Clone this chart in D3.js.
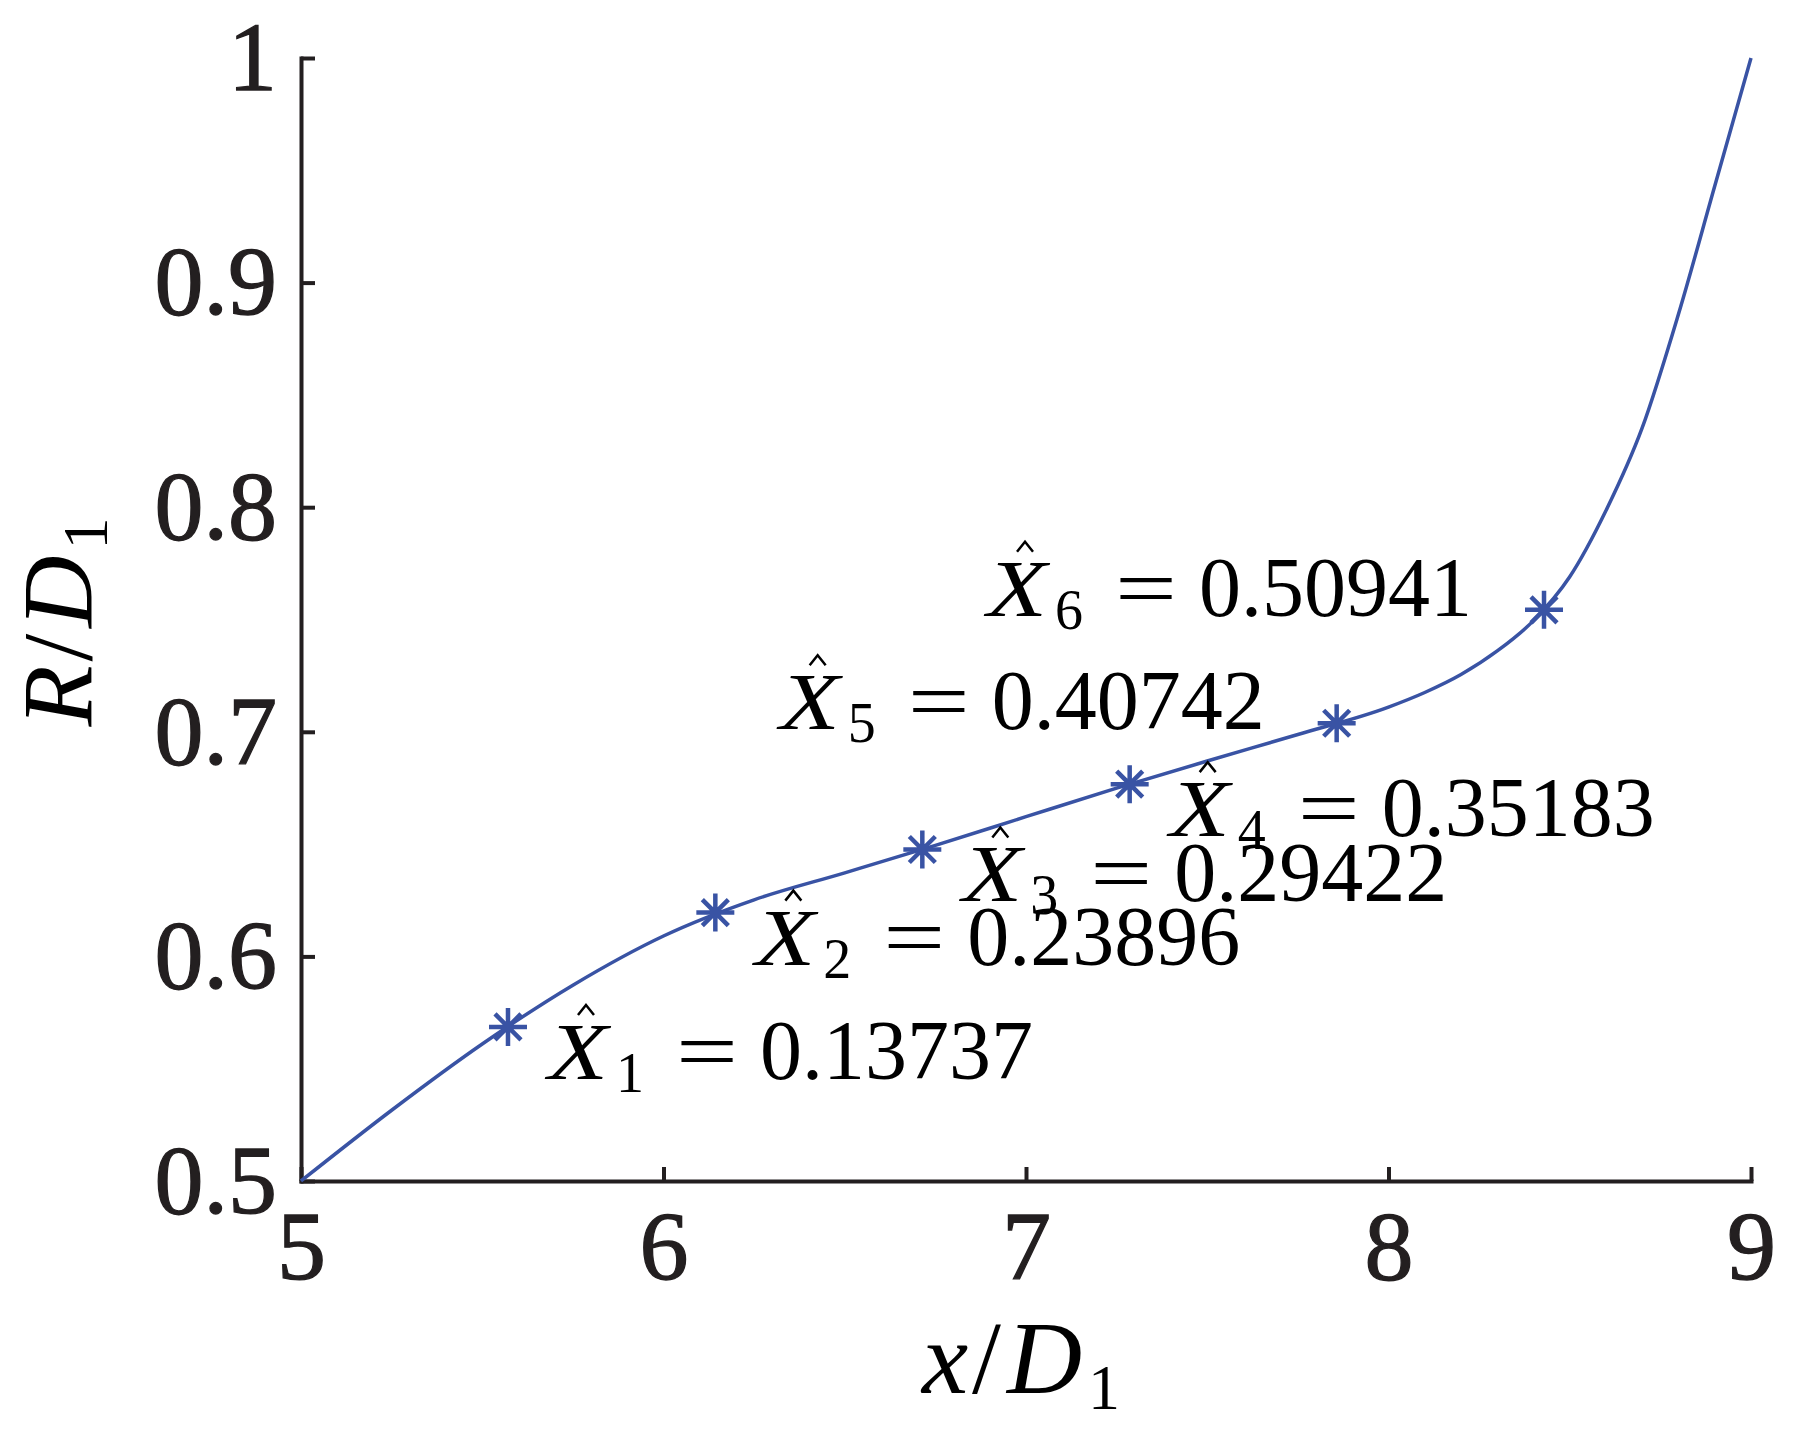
<!DOCTYPE html>
<html>
<head>
<meta charset="utf-8">
<script src="https://cdn.jsdelivr.net/npm/d3@7"></script>
<style>
  body { margin: 0; background: #fff; }
  text { font-family: "Liberation Serif", "Times New Roman", serif; fill: #000; }
  .axis path, .axis line { stroke: #231f20; stroke-width: 4; }
  .axis text { font-size: 98px; fill: #231f20; stroke: #231f20; stroke-width: 1.3; }
</style>
</head>
<body>
<div id="chart"></div>
<script>
// tick values
var xTicks = [5, 6, 7, 8, 9];
var yTicks = [0.5, 0.6, 0.7, 0.8, 0.9, 1];

// R/D1 along x/D1
var curveX = [5.0, 5.25, 5.5, 5.75, 6.0, 6.25, 6.5, 6.75, 7.0, 7.25, 7.5, 7.75, 8.0, 8.1, 8.2, 8.3, 8.4, 8.5, 8.6, 8.7, 8.8, 8.9, 9.0];
var curveY = [0.5, 0.5315, 0.5610, 0.5872, 0.6091, 0.6252, 0.6372, 0.6494, 0.6622, 0.6749, 0.6870, 0.6988, 0.7110, 0.7175, 0.7255, 0.7360, 0.7495, 0.7690, 0.7985, 0.8354, 0.8860, 0.9430, 1.0];

// the six marked points and their X-hat values
var markX = [5.571, 6.143, 6.714, 7.286, 7.857, 8.429];
var markY = [0.5686, 0.6195, 0.6476, 0.6767, 0.7038, 0.7543];
var markVal = ["0.13737", "0.23896", "0.29422", "0.35183", "0.40742", "0.50941"];

// set the dimensions and margins of the graph
var margin = {top: 58, right: 44, bottom: 265, left: 301},
    width = 1795 - margin.left - margin.right,
    height = 1446 - margin.top - margin.bottom;

// set the ranges
var x = d3.scaleLinear().domain([5, 9]).range([0, width]);
var y = d3.scaleLinear().domain([0.5, 1]).range([height, 0]);

var svg = d3.select("#chart").append("svg")
    .attr("width", 1795)
    .attr("height", 1446)
    .style("background", "#fff");

var g = svg.append("g")
    .attr("transform", "translate(" + margin.left + "," + margin.top + ")");

// axes, ticks pointing inward, no box
g.append("g")
    .attr("class", "axis")
    .attr("transform", "translate(0," + height + ")")
    .call(d3.axisBottom(x).tickValues(xTicks).tickSize(-14).tickSizeOuter(0).tickPadding(28)
        .tickFormat(d3.format("d")))
    .call(function(a) { a.select(".domain").attr("stroke-linecap", "square"); });

g.append("g")
    .attr("class", "axis")
    .call(d3.axisLeft(y).tickValues(yTicks).tickSize(-14).tickSizeOuter(0).tickPadding(24)
        .tickFormat(function(d) { return d === 1 ? "1" : d3.format(".1f")(d); }))
    .call(function(a) { a.select(".domain").attr("stroke-linecap", "square"); });

g.selectAll(".axis text").attr("font-family", "Liberation Serif");

// the curve
var line = d3.line()
    .x(function(d, i) { return x(curveX[i]); })
    .y(function(d, i) { return y(curveY[i]); })
    .curve(d3.curveMonotoneX);

g.append("path")
    .datum(curveX)
    .attr("fill", "none")
    .attr("stroke", "#3953a4")
    .attr("stroke-width", 3.5)
    .attr("d", line);

// asterisk markers
g.selectAll(".mark")
    .data(markX)
    .enter().append("path")
    .attr("class", "mark")
    .attr("transform", function(d, i) { return "translate(" + x(d) + "," + y(markY[i]) + ")"; })
    .attr("d", "M-19,0H19M0,-19V19M-13,-13L13,13M-13,13L13,-13")
    .attr("fill", "none")
    .attr("stroke", "#3953a4")
    .attr("stroke-width", 4.5);

// annotations: first four below-right of the point, last two to the left
var ann = g.selectAll(".ann")
    .data(markX)
    .enter().append("g")
    .attr("class", "ann")
    .attr("transform", function(d, i) {
      var px = x(d), py = y(markY[i]);
      if (i < 4) return "translate(" + (px + 40) + "," + (py + 52) + ")";
      return "translate(" + (px - 557) + "," + (py + 6) + ")";
    });

ann.append("text")
    .attr("x", 0)
    .attr("font-size", 80)
    .attr("font-style", "italic")
    .attr("textLength", 60)
    .attr("lengthAdjust", "spacingAndGlyphs")
    .text("X");

ann.append("path")
    .attr("d", "M30,-64L38,-74L46,-64")
    .attr("fill", "none")
    .attr("stroke", "#000")
    .attr("stroke-width", 2.5);

ann.append("text")
    .attr("x", 68)
    .attr("y", 13)
    .attr("font-size", 56)
    .text(function(d, i) { return i + 1; });

ann.append("text")
    .attr("x", 128)
    .attr("font-size", 82)
    .attr("textLength", 62)
    .attr("lengthAdjust", "spacingAndGlyphs")
    .text("=");

ann.append("text")
    .attr("x", 212)
    .attr("font-size", 84)
    .text(function(d, i) { return markVal[i]; });

// axis labels
function axisLabel(sel, v) {
  sel.append("tspan").attr("font-style", "italic").text(v);
  sel.append("tspan").attr("dx", 4).text("/");
  sel.append("tspan").attr("dx", 6).attr("font-style", "italic").text("D");
  sel.append("tspan").attr("dx", 6).attr("dy", 16).attr("font-size", 64).text("1");
}

svg.append("text")
    .attr("x", 1021)
    .attr("y", 1393)
    .attr("text-anchor", "middle")
    .attr("font-size", 104)
    .call(axisLabel, "x");

svg.append("text")
    .attr("transform", "translate(91,622) rotate(-90)")
    .attr("text-anchor", "middle")
    .attr("font-size", 100)
    .call(axisLabel, "R");
</script>
</body>
</html>
